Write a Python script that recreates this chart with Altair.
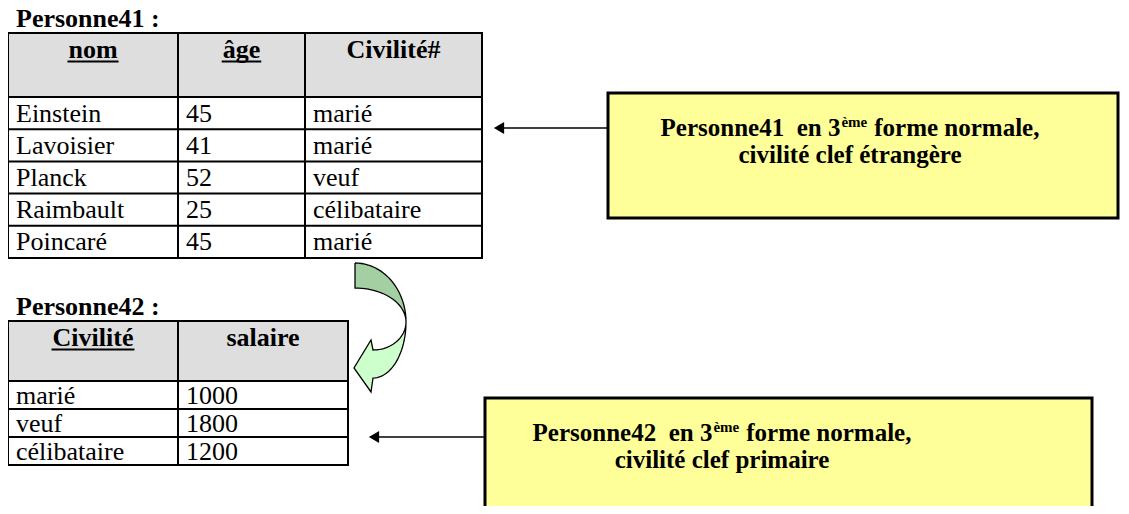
import altair as alt
import pandas as pd
import numpy as np

# ---------------- data ----------------
t1_title = "Personne41 :"
t1_headers = ["nom", "âge", "Civilité#"]
t1_underlined = [True, True, False]
noms = ["Einstein", "Lavoisier", "Planck", "Raimbault", "Poincaré"]
ages = ["45", "41", "52", "25", "45"]
civilites = ["marié", "marié", "veuf", "célibataire", "marié"]

t2_title = "Personne42 :"
t2_headers = ["Civilité", "salaire"]
t2_underlined = [True, False]
civ2 = ["marié", "veuf", "célibataire"]
salaires = ["1000", "1800", "1200"]

note1 = ["Personne41\u00a0 en 3", "ème", "forme normale,", "civilité clef étrangère"]
note2 = ["Personne42\u00a0 en 3", "ème", "forme normale,", "civilité clef primaire"]

# ---------------- layout / style ----------------
FONT = "Liberation Serif, Times New Roman, Times, serif"
XS = alt.Scale(domain=[8, 1121], range=[0, 1113])
YS = alt.Scale(domain=[8, 506], range=[0, 498])

# Times-Bold advance widths (per 1000 em) for measuring bold strings
BOLD_W = {" ": 250, "\u00a0": 250, "P": 611, "e": 444, "r": 444, "s": 389, "o": 500,
          "n": 556, "4": 500, "1": 500, "2": 500, "3": 500, "è": 444, "m": 833,
          "f": 333, "a": 500, "l": 278, ",": 250, "â": 500, "g": 500, "C": 722,
          "i": 278, "v": 500, "t": 333, "é": 444, "#": 500}


def bw(s, size):
    return sum(BOLD_W.get(c, 500) for c in s) * size / 1000.0


def ex(f="x"):
    return alt.X(f"{f}:Q", scale=XS, axis=None)


def ey(f="y"):
    return alt.Y(f"{f}:Q", scale=YS, axis=None)


def text_layer(df, size, bold=False, align="left", color="black"):
    return alt.Chart(df).mark_text(
        font=FONT, fontSize=size, fontWeight="bold" if bold else "normal",
        align=align, baseline="alphabetic", color=color
    ).encode(x=ex(), y=ey(), text="t:N")


def rules(df, width=2, color="black"):
    return alt.Chart(df).mark_rule(color=color, strokeWidth=width, strokeCap="square").encode(
        x=ex(), x2=alt.X2("x2:Q"), y=ey(), y2=alt.Y2("y2:Q"))


def table(title, headers, underl, columns, cols, top, head_h, row_h):
    layers = []
    n = len(columns[0])
    bottom = top + head_h + n * row_h
    hdr = pd.DataFrame({"x": [cols[0]], "x2": [cols[-1]], "y": [top], "y2": [top + head_h]})
    layers.append(alt.Chart(hdr).mark_rect(fill="#DEDEDE").encode(
        x=ex(), x2=alt.X2("x2:Q"), y=ey(), y2=alt.Y2("y2:Q")))
    hy = [top, top + head_h] + [top + head_h + (i + 1) * row_h for i in range(n)]
    hl = pd.DataFrame({"x": [cols[0]] * len(hy), "x2": [cols[-1]] * len(hy), "y": hy, "y2": hy})
    vl = pd.DataFrame({"x": cols, "x2": cols, "y": [top] * len(cols), "y2": [bottom] * len(cols)})
    layers.append(rules(hl))
    layers.append(rules(vl))
    # title
    layers.append(text_layer(pd.DataFrame({"x": [cols[0] + 8], "y": [top - 6], "t": [title]}), 26, bold=True))
    # headers
    cx = [(cols[i] + cols[i + 1]) / 2 for i in range(len(headers))]
    hb = top + 25
    layers.append(text_layer(pd.DataFrame({"x": cx, "y": [hb] * len(headers), "t": headers}),
                             26, bold=True, align="center"))
    ul = [(c, bw(h, 26)) for c, h, u in zip(cx, headers, underl) if u]
    udf = pd.DataFrame({"x": [c - w / 2 for c, w in ul], "x2": [c + w / 2 for c, w in ul],
                        "y": [hb + 3.5] * len(ul), "y2": [hb + 3.5] * len(ul)})
    layers.append(rules(udf, width=2))
    # body
    rows = []
    for j, col in enumerate(columns):
        for i, v in enumerate(col):
            rows.append({"x": cols[j] + 8,
                         "y": top + head_h + i * row_h + row_h / 2 + 8.5, "t": v})
    layers.append(text_layer(pd.DataFrame(rows), 26))
    return layers


def note(lines, box, cx, base1, base2):
    x0, x1, y0, y1 = box
    layers = []
    b = pd.DataFrame({"x": [x0], "x2": [x1], "y": [y0], "y2": [y1]})
    layers.append(alt.Chart(b).mark_rect(fill="#FFFF99", stroke="black", strokeWidth=3, clip=True).encode(
        x=ex(), x2=alt.X2("x2:Q"), y=ey(), y2=alt.Y2("y2:Q")))
    fs, ss, gap = 25, 15, 7
    wa, wsup, wb = bw(lines[0], fs), bw(lines[1], ss), bw(lines[2], fs)
    start = cx - (wa + wsup + gap + wb + 1) / 2
    xa = start + wa
    layers.append(text_layer(pd.DataFrame({"x": [xa], "y": [base1], "t": [lines[0]]}), fs, True, "right"))
    layers.append(text_layer(pd.DataFrame({"x": [xa + 1], "y": [base1 - 9], "t": [lines[1]]}), ss, True, "left"))
    layers.append(text_layer(pd.DataFrame({"x": [xa + 1 + wsup + gap], "y": [base1], "t": [lines[2]]}),
                             fs, True, "left"))
    layers.append(text_layer(pd.DataFrame({"x": [cx], "y": [base2], "t": [lines[3]]}), fs, True, "center"))
    return layers


def pointer(x_from, x_to, y):
    d = pd.DataFrame({"x": [x_from], "x2": [x_to + 10], "y": [y], "y2": [y]})
    p = pd.DataFrame({"x": [x_to + 6], "y": [y]})
    return [rules(d, width=1.6),
            alt.Chart(p).mark_point(shape="triangle-left", filled=True, color="black",
                                    opacity=1, size=140).encode(x=ex(), y=ey())]


def polygon(pts, fill):
    df = pd.DataFrame({"x": [p[0] for p in pts], "y": [p[1] for p in pts], "i": range(len(pts))})
    return alt.Chart(df).mark_line(fill=fill, stroke="black", strokeWidth=1.3, strokeJoin="miter").encode(
        x=ex(), y=ey(), order="i:Q")


# curved (twisted ribbon) arrow between the two tables
t = np.linspace(0, np.pi / 2, 25)
upper = ([(355 + 51 * np.sin(a), 322 - 59 * np.cos(a)) for a in t] +
         [(355 + 51 * np.sin(a), 322 - 34 * np.cos(a)) for a in t[::-1]] + [(355, 263)])
lower = ([(373 + 33 * np.cos(a), 322 + 28 * np.sin(a)) for a in t] +
         [(371, 340), (354, 368), (371, 392), (373, 378)] +
         [(373 + 33 * np.cos(a), 322 + 56 * np.sin(a)) for a in t[::-1]])

layers = []
layers += table(t1_title, t1_headers, t1_underlined, [noms, ages, civilites],
                [8, 178, 305, 482], 33, 64, 32.2)
layers += table(t2_title, t2_headers, t2_underlined, [civ2, salaires],
                [8, 178, 348], 321, 60, 28)
layers += note(note1, (608, 1118, 93, 218), 850, 136, 163)
layers += note(note2, (485, 1092, 398, 560), 722, 441, 468)
layers += pointer(608, 493, 128)
layers += pointer(485, 368, 437)
layers.append(polygon(upper, "#A3CFA3"))
layers.append(polygon(lower, "#CCFFCC"))

chart = alt.layer(*layers).properties(
    width=1113, height=498, padding=0, autosize="none"
).configure_view(stroke=None)

chart.save("out.html", embed_options={"renderer": "svg", "actions": False})
